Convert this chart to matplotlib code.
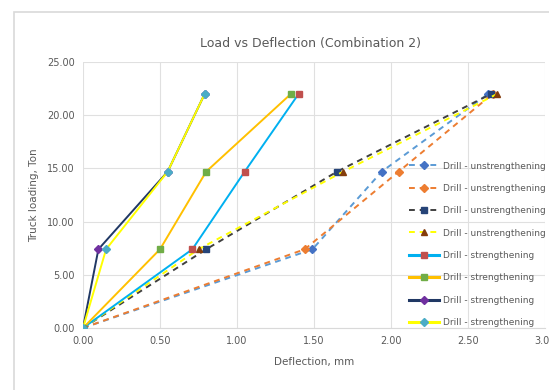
import matplotlib.pyplot as plt
from matplotlib.lines import Line2D
from matplotlib.patches import Rectangle

# Truck loading levels (Ton)
loads = [0.0, 7.4, 14.7, 22.0]

# Deflection (mm) per series
defl_u1 = [0.0, 1.49, 1.94, 2.63]
defl_u2 = [0.0, 1.44, 2.05, 2.66]
defl_u3 = [0.0, 0.80, 1.65, 2.65]
defl_u4 = [0.0, 0.75, 1.69, 2.69]
defl_s1 = [0.0, 0.71, 1.05, 1.40]
defl_s2 = [0.0, 0.50, 0.80, 1.35]
defl_s3 = [0.0, 0.10, 0.55, 0.79]
defl_s4 = [0.0, 0.15, 0.55, 0.79]

labels = ["Drill - unstrengthening"] * 4 + ["Drill - strengthening"] * 4

x_ticks = [0.0, 0.5, 1.0, 1.5, 2.0, 2.5, 3.0]
x_tick_labels = ["0.00", "0.50", "1.00", "1.50", "2.00", "2.50", "3.00"]
y_ticks = [0, 5, 10, 15, 20, 25]

# (line colour, marker colour, marker, dashed)
styles = [
    ("#5B9BD5", "#4472C4", "D", True),
    ("#ED7D31", "#ED7D31", "D", True),
    ("#404040", "#264478", "s", True),
    ("#FFFF00", "#843C0C", "^", True),
    ("#00B0F0", "#C0504D", "s", False),
    ("#FFC000", "#70AD47", "s", False),
    ("#203864", "#7030A0", "D", False),
    ("#FFFF00", "#4BACC6", "D", False),
]
series = [defl_u1, defl_u2, defl_u3, defl_u4, defl_s1, defl_s2, defl_s3, defl_s4]

W, H = 549, 390
fig = plt.figure(figsize=(W / 100, H / 100), dpi=100)
fig.patch.set_facecolor("white")

# chart-area border (cropped Excel chart)
fig.patches.append(Rectangle((14 / W, -0.1), 1.2, (H - 12) / H + 0.1,
                             transform=fig.transFigure, fill=False,
                             edgecolor="#D9D9D9", linewidth=1.2))

ax = fig.add_axes([83 / W, (H - 328) / H, (545 - 83) / W, (328 - 62) / H])
ax.set_xlim(0, 3.0)
ax.set_ylim(0, 25)

handles = []
for xs, lab, (lc, mc, mk, dashed) in zip(series, labels, styles):
    ls = (0, (3, 2.5)) if dashed else "-"
    ax.plot(xs, loads, color=lc, linestyle=ls, linewidth=1.4,
            marker=mk, markersize=4, markerfacecolor=mc, markeredgecolor=mc,
            zorder=3)
    handles.append(Line2D([0], [0], color=lc, linestyle=ls,
                          linewidth=1.4 if dashed else 2.2,
                          marker=mk, markersize=4,
                          markerfacecolor=mc, markeredgecolor=mc, label=lab))

ax.set_xticks(x_ticks)
ax.set_xticklabels(x_tick_labels)
ax.set_yticks(y_ticks)
ax.set_yticklabels([f"{v:.2f}" for v in y_ticks])
ax.grid(True, color="#E0E0E0", linewidth=0.8)
ax.set_axisbelow(True)
for side in ["top", "right", "left"]:
    ax.spines[side].set_visible(False)
ax.spines["bottom"].set_color("#D9D9D9")
ax.tick_params(length=0, labelsize=7, colors="#595959", pad=6)

ax.set_xlabel("Deflection, mm", fontsize=7.5, color="#595959", labelpad=8)
ax.set_ylabel("Truck loading, Ton", fontsize=7.5, color="#595959", labelpad=6)
fig.text(310 / W, 1 - 43 / H, "Load vs Deflection (Combination 2)",
         fontsize=9, color="#595959", ha="center", va="center")

leg = fig.legend(handles=handles, loc="upper left",
                 bbox_to_anchor=(404 / W, 1 - 157 / H),
                 frameon=False, fontsize=6.5, handlelength=3.4,
                 handletextpad=0.4, labelspacing=1.48, borderpad=0)
for t in leg.get_texts():
    t.set_color("#595959")

fig.savefig("out.png", dpi=100, facecolor="white")
